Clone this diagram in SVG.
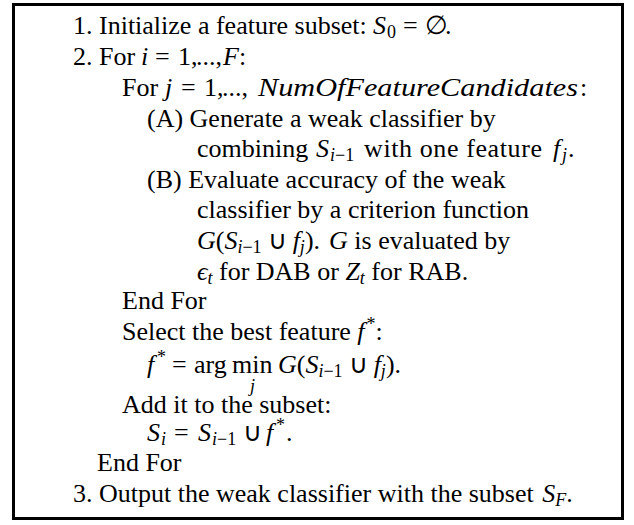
<svg xmlns="http://www.w3.org/2000/svg" width="634" height="525" viewBox="0 0 634 525">
<style>
.t{font-family:"Liberation Serif","Times New Roman",serif;font-size:26px;fill:#000}
.m{font-style:italic}
.s{font-size:18px}
.box{fill:#fff;stroke:#000;stroke-width:3}
</style>
<rect width="634" height="525" fill="#fff"/>
<rect id="frame" class="box" x="13.5" y="4.5" width="609" height="514"/>
<g id="algorithm" class="t">
<text id="l1" x="73" y="34">1. Initialize a feature subset:<tspan class="m" x="373">S</tspan><tspan class="s" x="387" dy="4">0</tspan><tspan x="403" dy="-4">=</tspan><tspan x="425">∅</tspan><tspan x="445">.</tspan></text>
<text id="l2" x="73" y="65">2. For<tspan class="m" x="141">i</tspan><tspan x="155">=</tspan><tspan x="178">1,</tspan><tspan x="196">...,</tspan><tspan class="m" x="223">F</tspan><tspan x="239">:</tspan></text>
<text id="l3" x="122" y="96">For<tspan class="m" x="165">j</tspan><tspan x="181">=</tspan><tspan x="204">1,</tspan><tspan x="222">...,</tspan><tspan class="m" x="258" textLength="320" lengthAdjust="spacingAndGlyphs">NumOfFeatureCandidates</tspan><tspan x="580">:</tspan></text>
<text id="l4" x="147" y="127">(A) Generate a weak classifier by</text>
<text id="l5" x="197" y="157">combining<tspan class="m" x="316">S</tspan><tspan class="s" x="330" dy="4"><tspan class="m">i</tspan>−1</tspan><tspan x="364" dy="-4" textLength="178" lengthAdjust="spacing">with one feature</tspan><tspan class="m" x="553">f</tspan><tspan class="s m" x="562" dy="4">j</tspan><tspan x="568" dy="-4">.</tspan></text>
<text id="l6" x="147" y="188">(B) Evaluate accuracy of the weak</text>
<text id="l7" x="197" y="218">classifier by a criterion function</text>
<text id="l8" x="197" y="249"><tspan class="m">G</tspan>(<tspan class="m">S</tspan><tspan class="s" dy="4"><tspan class="m">i</tspan>−1</tspan><tspan dy="-4" dx="6">∪</tspan><tspan class="m" dx="6">f</tspan><tspan class="s m" dy="4">j</tspan><tspan dy="-4">).</tspan><tspan class="m" dx="9">G</tspan> is evaluated by</text>
<text id="l9" x="197" y="280"><tspan class="m">ϵ</tspan><tspan class="s m" dy="4">t</tspan><tspan dy="-4"> for DAB or </tspan><tspan class="m">Z</tspan><tspan class="s m" dy="4">t</tspan><tspan dy="-4"> for RAB.</tspan></text>
<text id="l10" x="122" y="309">End For</text>
<text id="l11" x="122" y="340">Select the best feature <tspan class="m">f</tspan><tspan class="s" dx="2" dy="-10">*</tspan><tspan dy="10">:</tspan></text>
<text id="l12" x="147" y="373"><tspan class="m">f</tspan><tspan class="s" x="157" dy="-10">*</tspan><tspan x="172" dy="10">=</tspan><tspan x="194">arg</tspan><tspan x="232">min</tspan><tspan class="m" x="278">G</tspan>(<tspan class="m">S</tspan><tspan class="s" dy="4"><tspan class="m">i</tspan>−1</tspan><tspan dy="-4" dx="6">∪</tspan><tspan class="m" dx="6">f</tspan><tspan class="s m" dy="4">j</tspan><tspan dy="-4">).</tspan></text>
<text id="l12j" class="s m" x="250" y="392">j</text>
<text id="l13" x="122" y="413">Add it to the subset:</text>
<text id="l14" x="147" y="441"><tspan class="m">S</tspan><tspan class="s m" x="161" dy="4">i</tspan><tspan x="174" dy="-4">=</tspan><tspan class="m" x="198">S</tspan><tspan class="s" x="212" dy="4"><tspan class="m">i</tspan>−1</tspan><tspan x="243" dy="-4">∪</tspan><tspan class="m" x="266">f</tspan><tspan class="s" x="276" dy="-10">*</tspan><tspan x="286" dy="10">.</tspan></text>
<text id="l15" x="97" y="471">End For</text>
<text id="l16" x="73" y="502">3. Output the weak classifier with the subset <tspan class="m" dx="2">S</tspan><tspan class="s m" dy="4">F</tspan><tspan dy="-4">.</tspan></text>
</g>
</svg>
